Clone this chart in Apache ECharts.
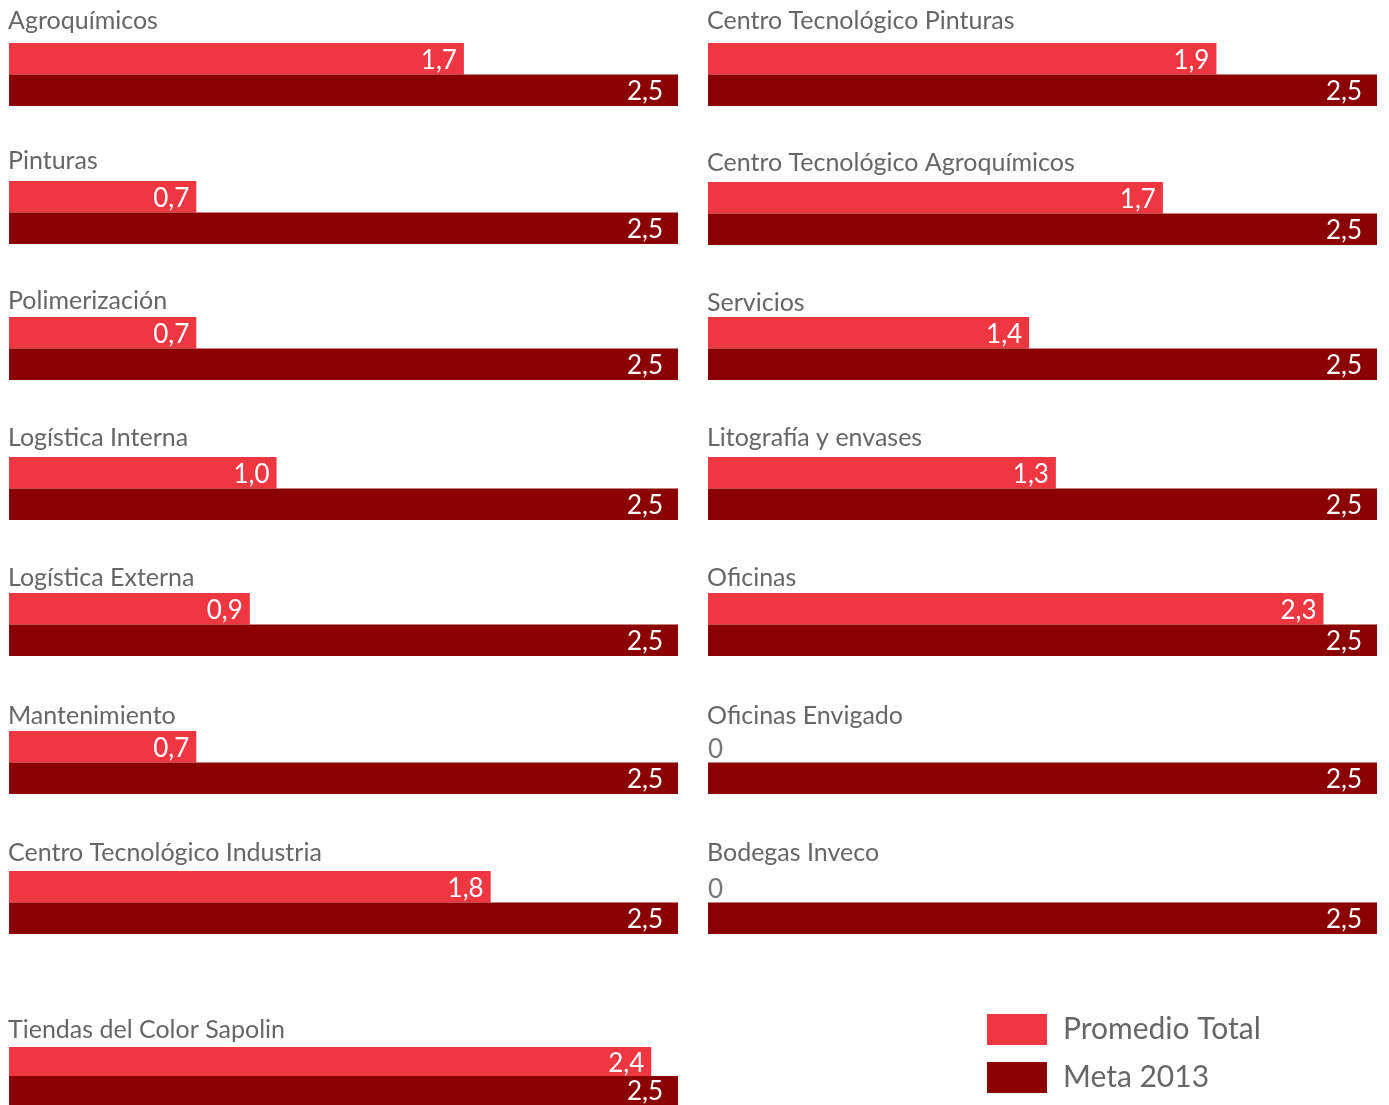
<!DOCTYPE html>
<html>
<head>
<meta charset="utf-8">
<script src="https://cdn.jsdelivr.net/npm/echarts@6/dist/echarts.min.js"></script>
<style>html,body{margin:0;padding:0;background:#fff}#c{width:1389px;height:1105px}</style>
</head>
<body>
<div id="c"></div>
<script>
const categories = [
  'Agroquímicos','Pinturas','Polimerización','Logística Interna','Logística Externa',
  'Mantenimiento','Centro Tecnológico Industria','Tiendas del Color Sapolin',
  'Centro Tecnológico Pinturas','Centro Tecnológico Agroquímicos','Servicios',
  'Litografía y envases','Oficinas','Oficinas Envigado','Bodegas Inveco'
];
// bar lengths as drawn in the picture
const promedioTotal = [1.7,0.7,0.7,1.0,0.9,0.7,1.8,2.4, 1.9,1.7,1.2,1.3,2.3,0,0];
// value labels as printed in the picture
const promedioLabels = ['1,7','0,7','0,7','1,0','0,9','0,7','1,8','2,4', '1,9','1,7','1,4','1,3','2,3','0','0'];
const meta2013 = [2.5,2.5,2.5,2.5,2.5,2.5,2.5,2.5, 2.5,2.5,2.5,2.5,2.5,2.5,2.5];
const metaLabels = ['2,5','2,5','2,5','2,5','2,5','2,5','2,5','2,5', '2,5','2,5','2,5','2,5','2,5','2,5','2,5'];
const seriesNames = ['Promedio Total','Meta 2013'];

// layout (positions only)
const gridTops = [43,181,317,457,593,731,871,1047, 43,182,317,457,593,731,871];
const titleTops = [8,148,288,425,565,703,840,1017, 8,150,290,425,565,703,840];
const colLeft = i => (i < 8 ? 9 : 708);

const LIGHT = '#EE3741', DARK = '#8B0000', GRAY = '#666666';
const FONT = 'Lato';

const grids = [], xAxes = [], yAxes = [], series = [], titles = [];
categories.forEach((name, i) => {
  grids.push({left: colLeft(i), width: 669, top: gridTops[i], height: 63, containLabel: false});
  xAxes.push({type: 'value', gridIndex: i, min: 0, max: 2.5, show: false});
  yAxes.push({type: 'category', gridIndex: i, data: seriesNames, inverse: true, show: false});
  titles.push({text: name, left: colLeft(i) - 1, top: titleTops[i], padding: 0,
    textStyle: {fontFamily: FONT, fontSize: 25, fontWeight: 'normal', color: GRAY}});
  const p = promedioTotal[i];
  const pItem = p === 0
    ? {value: 0, label: {position: 'right', distance: 0, color: '#777', offset: [0, 3]}}
    : {value: p};
  series.push({
    name: seriesNames[0], type: 'bar', stack: 's' + i, xAxisIndex: i, yAxisIndex: i,
    barCategoryGap: '0%', itemStyle: {color: LIGHT}, silent: true,
    label: {show: true, position: 'insideRight', distance: 7, offset: [0, 2], color: '#fff',
      fontFamily: FONT, fontSize: 26, formatter: () => promedioLabels[i]},
    data: [pItem, '-']
  });
  series.push({
    name: seriesNames[1], type: 'bar', stack: 's' + i, xAxisIndex: i, yAxisIndex: i,
    barCategoryGap: '0%', itemStyle: {color: DARK}, silent: true,
    label: {show: true, position: 'insideRight', distance: 15, offset: [0, 1], color: '#fff',
      fontFamily: FONT, fontSize: 26, formatter: () => metaLabels[i]},
    data: ['-', meta2013[i]]
  });
});

const chart = echarts.init(document.getElementById('c'), null, {renderer: 'canvas'});
chart.setOption({
  animation: false,
  backgroundColor: '#fff',
  title: titles,
  grid: grids,
  xAxis: xAxes,
  yAxis: yAxes,
  legend: {
    data: seriesNames, orient: 'vertical', left: 982, top: 1009,
    itemWidth: 60, itemHeight: 31, itemGap: 17, icon: 'rect', selectedMode: false,
    textStyle: {fontFamily: FONT, fontSize: 30, color: GRAY, padding: [0,0,0,11]}
  },
  series: series
});
</script>
</body>
</html>
